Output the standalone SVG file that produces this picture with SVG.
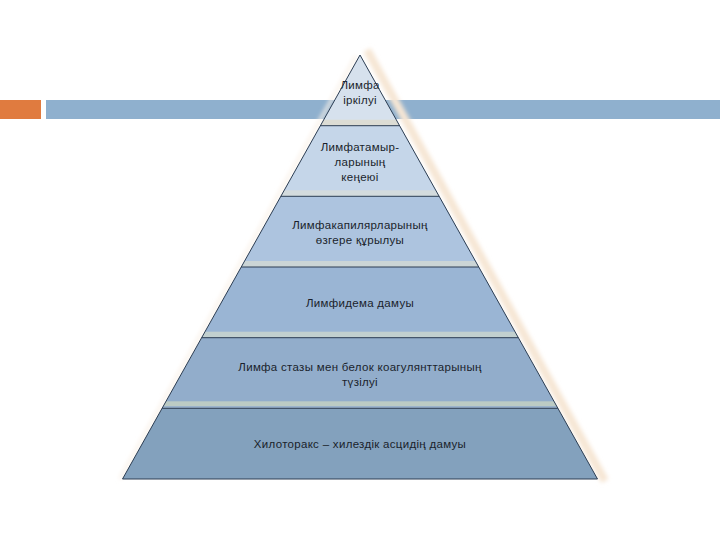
<svg xmlns="http://www.w3.org/2000/svg" width="720" height="540" viewBox="0 0 720 540">
  <style>
    .lbl { font-family: "Liberation Sans", Arial, sans-serif; font-size: 11.5px; letter-spacing: 0.3px; fill: #1a1f2b; text-anchor: middle; }
    .div { stroke: #2c3d52; stroke-width: 1; fill: none; }
  </style>
  <defs>
    <clipPath id="tri">
      <polygon points="360,55 597.5,479 122.5,479"/>
    </clipPath>
    <filter id="blur" x="-20%" y="-20%" width="140%" height="140%">
      <feGaussianBlur stdDeviation="2"/>
    </filter>
  </defs>
  <rect width="720" height="540" fill="#ffffff"/>

  <g id="header">
    <rect x="0" y="100" width="41" height="19" fill="#e07b3f"/>
    <rect x="46" y="100" width="674" height="19" fill="#8fb0ce"/>
  </g>

  <g id="shadow" filter="url(#blur)">
    <line x1="367" y1="50" x2="605" y2="481" stroke="#f6e6d4" stroke-width="8"/>
    <line x1="356" y1="56" x2="120" y2="479" stroke="#f9f1e8" stroke-width="3"/>
  </g>

  <g id="layer1">
    <polygon points="360,55 399.6,125.7 320.4,125.7" fill="#d6e1ed"/>
    <rect x="100" y="119.7" width="520" height="6" fill="#dcdcd4" clip-path="url(#tri)"/>
    <text class="lbl" x="360" y="89">Лимфа</text>
    <text class="lbl" x="360" y="104">іркілуі</text>
  </g>
  <g id="layer2">
    <polygon points="320.4,125.7 399.6,125.7 439.2,196.3 280.8,196.3" fill="#c5d6e9"/>
    <rect x="100" y="190.3" width="520" height="6" fill="#d3dbdd" clip-path="url(#tri)"/>
    <text class="lbl" x="360" y="151">Лимфатамыр-</text>
    <text class="lbl" x="360" y="166">ларының</text>
    <text class="lbl" x="360" y="181">кеңеюі</text>
  </g>
  <g id="layer3">
    <polygon points="280.8,196.3 439.2,196.3 478.8,267 241.2,267" fill="#adc4df"/>
    <rect x="100" y="261" width="520" height="6" fill="#cbd5d6" clip-path="url(#tri)"/>
    <text class="lbl" x="360" y="229">Лимфакапилярларының</text>
    <text class="lbl" x="360" y="244">өзгере құрылуы</text>
  </g>
  <g id="layer4">
    <polygon points="241.2,267 478.8,267 518.3,337.7 201.7,337.7" fill="#9ab5d4"/>
    <rect x="100" y="331.7" width="520" height="6" fill="#c2d0cf" clip-path="url(#tri)"/>
    <text class="lbl" x="360" y="307">Лимфидема дамуы</text>
  </g>
  <g id="layer5">
    <polygon points="201.7,337.7 518.3,337.7 557.9,408.3 162.1,408.3" fill="#92adcb"/>
    <rect x="100" y="401.3" width="520" height="5" fill="#bccbc4" clip-path="url(#tri)"/>
    <rect x="100" y="406.3" width="520" height="2" fill="#9bb2cc" clip-path="url(#tri)"/>
    <text class="lbl" x="360" y="371">Лимфа стазы мен белок коагулянттарының</text>
    <text class="lbl" x="360" y="386">түзілуі</text>
  </g>
  <g id="layer6">
    <polygon points="162.1,408.3 557.9,408.3 597.5,479 122.5,479" fill="#83a1bd"/>
    <text class="lbl" x="360" y="448">Хилоторакс – хилездік асцидің дамуы</text>
  </g>

  <g id="connectors">
    <line class="div" x1="320.4" y1="125.7" x2="399.6" y2="125.7"/>
    <line class="div" x1="280.8" y1="196.3" x2="439.2" y2="196.3"/>
    <line class="div" x1="241.2" y1="267" x2="478.8" y2="267"/>
    <line class="div" x1="201.7" y1="337.7" x2="518.3" y2="337.7"/>
    <line class="div" x1="162.1" y1="408.3" x2="557.9" y2="408.3"/>
    <polygon class="div" points="360,55 597.5,479 122.5,479"/>
  </g>
</svg>
